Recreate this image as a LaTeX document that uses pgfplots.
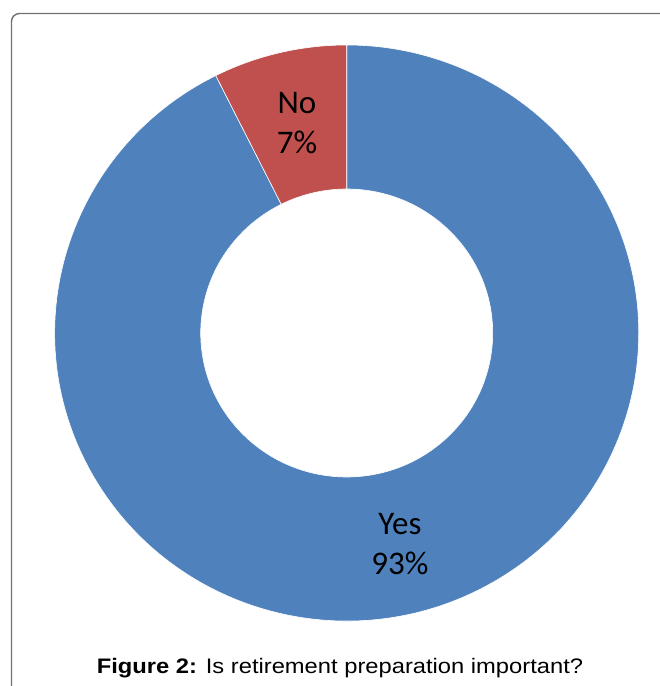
\documentclass[border=0pt]{standalone}
\usepackage{pgfplots}
\usepackage{pgfplotstable}
\pgfplotsset{compat=1.18}
\usepackage{fontspec}
\setmainfont{Liberation Sans}
\newfontfamily\calibri{Carlito}
\definecolor{yesblue}{HTML}{4F81BD}
\definecolor{nored}{HTML}{C0504D}
\definecolor{framegray}{HTML}{727272}

\pgfplotstableread{
label value
No 7.4
Yes 92.6
}\piedata

\begin{document}
\begin{tikzpicture}[x=1pt,y=1pt]
\clip (0,0) rectangle (660,686);
\fill[white] (0,0) rectangle (660,686);
\draw[framegray, line width=1.4pt, rounded corners=8pt] (11.5,-10) -- (11.5,672.5) -- (680,672.5);
\pgfplotstablegetelem{0}{value}\of\piedata
\pgfmathsetmacro{\vNo}{\pgfplotsretval}
\pgfmathsetmacro{\aSplit}{90+3.6*\vNo}
\begin{axis}[
  hide axis, x=1pt, y=1pt,
  xmin=-300, xmax=300, ymin=-300, ymax=300,
  at={(346.7pt,353pt)}, anchor=origin,
  clip=false,
]
% Yes slice
\fill[yesblue, draw=white, line width=0.6pt]
  ({292*cos(\aSplit)},{288*sin(\aSplit)}) arc[start angle=\aSplit, end angle=450, x radius=292pt, y radius=288pt]
  -- ({146*cos(450)},{144*sin(450)}) arc[start angle=450, end angle=\aSplit, x radius=146pt, y radius=144pt] -- cycle;
% No slice
\fill[nored, draw=white, line width=0.6pt]
  ({292*cos(90)},{288*sin(90)}) arc[start angle=90, end angle=\aSplit, x radius=292pt, y radius=288pt]
  -- ({146*cos(\aSplit)},{144*sin(\aSplit)}) arc[start angle=\aSplit, end angle=90, x radius=146pt, y radius=144pt] -- cycle;
\node[align=center, font=\calibri\fontsize{33}{40}\selectfont] at (-49.7,209.5) {No\\7\%};
\node[align=center, font=\calibri\fontsize{33}{40}\selectfont] at (53.3,-211) {Yes\\93\%};
\end{axis}
\node[anchor=base, xscale=1.13, font=\fontsize{21}{25}\selectfont] at (340,12.5) {\textbf{Figure 2:} Is retirement preparation important?};
\end{tikzpicture}
\end{document}
